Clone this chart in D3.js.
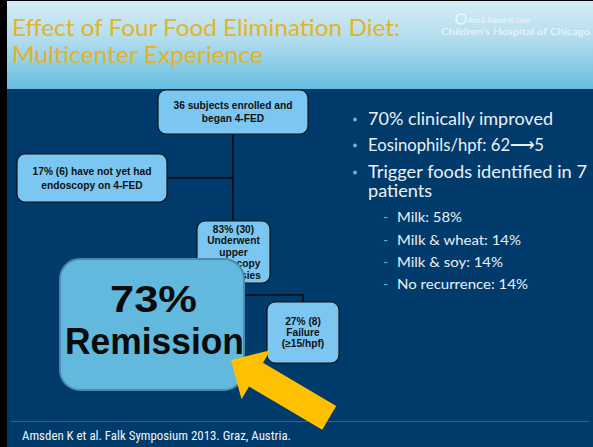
<!DOCTYPE html>
<html>
<head>
<meta charset="utf-8">
<script src="https://cdn.jsdelivr.net/npm/d3@7"></script>
<style>
  html, body { margin: 0; padding: 0; background: #000; }
  svg { display: block; }
</style>
</head>
<body>
<div id="slide"></div>
<script>
const width = 593;
const height = 447;

// slide text
const titleLines = ["Effect of Four Food Elimination Diet:", "Multicenter Experience"];
const logoLines = ["Ann & Robert H. Lurie", "Children's Hospital of Chicago"];
const bulletLines = ["70% clinically improved", "Eosinophils/hpf: 62\u27F65", "Trigger foods identified in 7", "patients"];
const bulletMarks = [true, true, true, false];
const subBulletLines = ["Milk: 58%", "Milk & wheat: 14%", "Milk & soy: 14%", "No recurrence: 14%"];
const footerText = "Amsden K et al. Falk Symposium 2013. Graz, Austria.";

// flowchart boxes
const boxIds = ["enrolled", "noEndo", "endo", "failure"];
const boxLabels = [
  ["36 subjects enrolled and", "began 4-FED"],
  ["17% (6) have not yet had", "endoscopy on 4-FED"],
  ["83% (30)", "Underwent", "upper", "endoscopy", "w/ biopsies"],
  ["27% (8)", "Failure", "(\u226515/hpf)"]
];
const highlightLines = ["73%", "Remission"];

// layout (kept apart from the text)
const boxLayout = {
  enrolled: {x: 158, y: 90, w: 150, h: 44, lh: 12.5},
  noEndo:   {x: 17,  y: 154, w: 150, h: 48, lh: 14},
  endo:     {x: 197, y: 221, w: 73,  h: 62, lh: 11.5},
  failure:  {x: 267, y: 302, w: 72,  h: 61, lh: 11}
};

const svg = d3.select("#slide").append("svg")
    .attr("width", width)
    .attr("height", height)
    .attr("viewBox", [0, 0, width, height]);

const defs = svg.append("defs");
const grad = defs.append("linearGradient")
    .attr("id", "headGrad")
    .attr("x1", 0).attr("y1", 0).attr("x2", 0).attr("y2", 1);
grad.append("stop").attr("offset", "0%").attr("stop-color", "#d6edf6");
grad.append("stop").attr("offset", "45%").attr("stop-color", "#b0dcee");
grad.append("stop").attr("offset", "100%").attr("stop-color", "#66bde0");

// background
svg.append("rect").attr("width", width).attr("height", height).attr("fill", "#000");
svg.append("rect").attr("x", 7).attr("y", 1).attr("width", width - 7).attr("height", height - 1)
    .attr("fill", "#013b6b");
svg.append("rect").attr("x", 7).attr("y", 1).attr("width", width - 7).attr("height", 88)
    .attr("fill", "url(#headGrad)");

// stretch text horizontally to the span it has on the slide, keeping its height
function span(sel, w) {
  return sel.attr("textLength", w).attr("lengthAdjust", "spacingAndGlyphs");
}

const bodyFont = "Lato, 'Open Sans', sans-serif";
const boxFont = "'Liberation Sans', Arial, sans-serif";

// title
const titleY = [36, 63];
const titleW = [388, 251];
titleLines.forEach((t, i) => {
  span(svg.append("text")
      .attr("x", 12).attr("y", titleY[i])
      .attr("font-family", bodyFont)
      .attr("font-size", 22.5)
      .attr("fill", "#e4b326")
      .text(t), titleW[i]);
});

// logo
const logo = svg.append("g").attr("opacity", 0.75);
logo.append("circle").attr("cx", 461).attr("cy", 19).attr("r", 5)
    .attr("fill", "none").attr("stroke", "#fff").attr("stroke-width", 1.6);
[[468, 23, 62, 8], [441, 35, 149, 10]].forEach(([x, y, w, fs], i) => {
  span(logo.append("text")
      .attr("x", x).attr("y", y)
      .attr("font-family", bodyFont)
      .attr("font-size", fs)
      .attr("fill", "#fff")
      .text(logoLines[i]), w);
});

// connectors
const lines = [
  [[233, 134], [233, 221]],
  [[167, 178], [233, 178]],
  [[245, 295], [303, 295], [303, 302]]
];
const lineGen = d3.line();
svg.append("g")
    .attr("fill", "none")
    .attr("stroke", "#0a0a0a")
    .attr("stroke-width", 1.6)
  .selectAll("path")
  .data(lines)
  .join("path")
    .attr("d", lineGen);

// boxes
const boxes = svg.append("g").selectAll("g")
  .data(boxIds.map((id, i) => ({id, lines: boxLabels[i], ...boxLayout[id]})))
  .join("g")
    .attr("transform", d => `translate(${d.x},${d.y})`);

boxes.append("rect")
    .attr("width", d => d.w)
    .attr("height", d => d.h)
    .attr("rx", 8)
    .attr("fill", "#7bc7f1")
    .attr("stroke", "#111")
    .attr("stroke-width", 1.2);

boxes.each(function(d) {
  const g = d3.select(this);
  const n = d.lines.length;
  const y0 = d.h / 2 - (n - 1) * d.lh / 2 + 3.5;
  d.lines.forEach((t, i) => {
    g.append("text")
        .attr("x", d.w / 2)
        .attr("y", y0 + i * d.lh)
        .attr("text-anchor", "middle")
        .attr("font-family", boxFont)
        .attr("font-weight", "bold")
        .attr("font-size", 10.2)
        .attr("fill", "#111")
        .text(t);
  });
});

// big remission box
const big = svg.append("g").attr("transform", "translate(60,259)");
big.append("rect")
    .attr("width", 184).attr("height", 131)
    .attr("rx", 20)
    .attr("fill", "#63b8dd")
    .attr("stroke", "#4a8cad")
    .attr("stroke-width", 2);
const bigY = [53, 95];
const bigX = [50, 5];
const bigW = [87, 179];
highlightLines.forEach((t, i) => {
  span(big.append("text")
      .attr("x", bigX[i]).attr("y", bigY[i])
      .attr("font-family", boxFont)
      .attr("font-weight", "bold")
      .attr("font-size", 36)
      .attr("fill", "#0b0b0b")
      .text(t), bigW[i]);
});

// arrow (tip, direction and proportions)
function arrowPath(tip, dir, headLen, headW, shaftLen, shaftW) {
  const [ux, uy] = dir;
  const [px, py] = [-uy, ux];
  const pt = (a, b) => [tip[0] + ux * a + px * b, tip[1] + uy * a + py * b];
  return [
    pt(0, 0),
    pt(headLen, headW / 2),
    pt(headLen, shaftW / 2),
    pt(headLen + shaftLen, shaftW / 2),
    pt(headLen + shaftLen, -shaftW / 2),
    pt(headLen, -shaftW / 2),
    pt(headLen, -headW / 2)
  ];
}

// bullets
const bulletY = [125, 151, 178, 197];
const bulletW = [185, 176, 219, 64];
bulletLines.forEach((t, i) => {
  if (bulletMarks[i]) {
    svg.append("circle").attr("cx", 355).attr("cy", bulletY[i] - 5.5).attr("r", 2)
        .attr("fill", "#5fb4de");
  }
  span(svg.append("text")
      .attr("x", 368).attr("y", bulletY[i])
      .attr("font-family", bodyFont)
      .attr("font-size", 16.5)
      .attr("fill", "#eaf0f5")
      .text(t), bulletW[i]);
});

const subY = [222, 245, 267, 289];
const subW = [65, 124, 106, 131];
subBulletLines.forEach((t, i) => {
  svg.append("text")
      .attr("x", 383).attr("y", subY[i])
      .attr("font-family", bodyFont)
      .attr("font-size", 14)
      .attr("fill", "#5fb4de")
      .text("-");
  span(svg.append("text")
      .attr("x", 397).attr("y", subY[i])
      .attr("font-family", bodyFont)
      .attr("font-size", 13.8)
      .attr("fill", "#eaf0f5")
      .text(t), subW[i]);
});

// footer
svg.append("line")
    .attr("x1", 11).attr("x2", 589)
    .attr("y1", 421.5).attr("y2", 421.5)
    .attr("stroke", "#1d69ad")
    .attr("stroke-width", 1.2);
span(svg.append("text")
    .attr("x", 22).attr("y", 440)
    .attr("font-family", "'Liberation Sans Narrow', 'Roboto Condensed', 'Liberation Sans', sans-serif")
    .attr("font-size", 12)
    .attr("fill", "#f0f4f8")
    .text(footerText), 269);

// arrow sits on top of everything, including the footer rule
const ang = Math.atan2(43, 73);
svg.append("path")
    .attr("d", d3.line()(arrowPath([231, 360], [Math.cos(ang), Math.sin(ang)], 29, 57, 85, 27.5)) + "Z")
    .attr("fill", "#ffc000");
</script>
</body>
</html>
